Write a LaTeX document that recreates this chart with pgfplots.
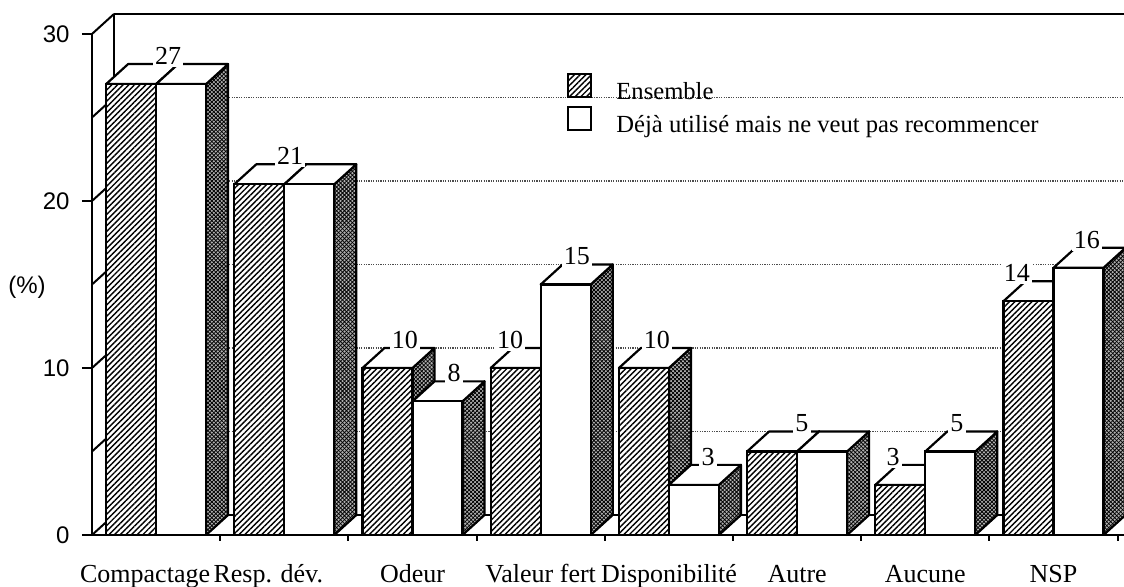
\documentclass[border=0pt]{standalone}
\usepackage{pgfplots}
\pgfplotsset{compat=1.18}
\usepackage{pgfplotstable}
\usepackage{fontspec}
\setmainfont{Liberation Serif}
\setsansfont{Liberation Sans}
\usetikzlibrary{patterns.meta}
\pgfdeclareplotmark{nomark}{}

\pgfplotstableread{
x   ens deja
0.5 27  27
1.5 21  21
2.5 10  8
3.5 10  15
4.5 10  3
5.5 5   5
6.5 3   5
7.5 14  16
}\data

\pgfplotstableread{
lx    ly
0.593 27
1.545 21
2.441 10
2.824 8
3.261 10
3.783 15
4.407 10
4.805 3
5.538 5
6.248 3
6.747 5
7.215 14
7.761 16
}\labels

\tikzset{
  sideface/.style={draw=black, line width=1.1pt, line join=round,
    preaction={fill=black!30},
    preaction={pattern={Lines[angle=45,distance=1.4pt,line width=0.4pt]}},
    preaction={pattern={Lines[angle=-45,distance=1.4pt,line width=0.4pt]}}},
  topface/.style={draw=black, fill=white, line width=1.1pt, line join=round},
  wallgrid/.style={black!70, line width=0.8pt, dash pattern=on 0.6pt off 0.6pt},
}
\pgfplotsset{
  extrude/.style={forget plot, only marks, mark=nomark, scatter,
    visualization depends on={rawy \as \val},
    scatter/@pre marker code/.code={%
      \pgfmathsetmacro\hh{\val*8.35}%
      \path[sideface] (0pt,0pt) -- (11pt,10pt) -- (11pt,10pt-\hh pt) -- (0pt,-\hh pt) -- cycle;
      \path[topface] (0pt,0pt) -- (-25pt,0pt) -- (-14pt,10pt) -- (11pt,10pt) -- cycle;
    },
    scatter/@post marker code/.code={}},
  boxlegend/.style={legend image code/.code={\draw[##1, line width=1pt] (0pt,-2.5pt) rectangle (11.5pt,9pt);}},
}

\begin{document}
\begin{tikzpicture}
\path[use as bounding box] (-46pt,-26pt) rectangle (516pt,267.5pt);
\begin{axis}[
  anchor=south west, at={(0pt,0pt)},
  x=64.1pt, y=8.35pt,
  xmin=0, xmax=8.05, ymin=0, ymax=30,
  clip=false, clip mode=individual,
  axis lines*=left,
  axis line style={line width=1pt, black},
  tick align=outside,
  tick style={line width=1pt, black},
  major tick length=5pt,
  minor tick length=3pt,
  xtick={0.5,1.5,...,7.5},
  xticklabels={Compactage\hspace*{11pt},Resp. dév.\hspace*{16pt},Odeur,Valeur fert,Disponibilité,Autre,Aucune,NSP},
  major x tick style={draw=none},
  minor xtick={1,2,...,8},
  xticklabel style={font=\fontsize{13}{15}\selectfont, anchor=base, inner sep=0pt, yshift=-19pt},
  ytick={0,10,20,30},
  /pgf/number format/assume math mode=true,
  yticklabel style={font=\sffamily\fontsize{12}{14}\selectfont, inner sep=0pt, xshift=-6pt},
  legend style={draw=none, fill=none, at={(0.4603,0.922)}, anchor=north west,
    font=\fontsize{12.3}{14}\selectfont, inner sep=0pt, row sep=0pt,
    /tikz/every odd column/.append style={column sep=10pt}},
  legend cell align=left,
]
% back wall and floor
\draw[line width=1pt] ([shift={(11pt,10pt)}]axis cs:0,0) -- ([shift={(11pt,10pt)}]axis cs:0,30);
\draw[line width=1pt] ([shift={(11pt,10pt)}]axis cs:0,0) -- ([shift={(11pt,10pt)}]axis cs:8.05,0);
\pgfplotsinvokeforeach{5,10,15,20,25}{
  \draw[wallgrid] ([shift={(11pt,10pt)}]axis cs:0,#1) -- ([shift={(11pt,10pt)}]axis cs:8.05,#1);
}
\pgfplotsinvokeforeach{0,5,10,15,20,25,30}{
  \draw[line width=1pt] (axis cs:0,#1) -- ++(11pt,10pt);
}
\draw[line width=1.1pt] ([shift={(11pt,10pt)}]axis cs:0,30) -- ([shift={(11pt,10pt)}]axis cs:8.05,30);

% Ensemble
\addplot[extrude] table[x=x, y=ens]{\data};
\addplot[ybar, bar width=0.39, bar shift=-0.195, draw=black, line width=1.1pt,
  fill=white, postaction={pattern={Lines[angle=45,distance=2pt,line width=0.7pt]}},
  boxlegend]
  table[x=x, y=ens]{\data};
\addlegendentry{Ensemble}
% Deja utilise
\addplot[extrude] table[x expr=\thisrow{x}+0.39, y=deja]{\data};
\addplot[ybar, bar width=0.39, bar shift=0.195, draw=black, line width=1.1pt, fill=white,
  boxlegend]
  table[x=x, y=deja]{\data};
\addlegendentry{Déjà utilisé mais ne veut pas recommencer}

% value labels
\addplot[forget plot, only marks, mark=nomark, nodes near coords,
  every node near coord/.append style={anchor=center, yshift=14pt, fill=white,
    inner sep=1.2pt, font=\fontsize{13}{15}\selectfont}]
  table[x=lx, y=ly]{\labels};

\node[font=\sffamily\fontsize{12}{14}\selectfont] at ([xshift=-32.5pt]axis cs:0,14.85) {(\%)};
\end{axis}
\end{tikzpicture}
\end{document}
